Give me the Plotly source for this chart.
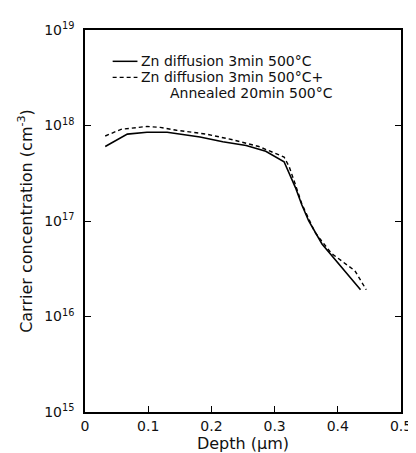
import plotly.graph_objects as go

depth_solid = [0.032, 0.067, 0.098, 0.13, 0.182, 0.218, 0.255, 0.286, 0.315, 0.333, 0.343, 0.354, 0.375, 0.406, 0.436]
log_solid = [17.78, 17.91, 17.93, 17.93, 17.88, 17.83, 17.79, 17.73, 17.62, 17.35, 17.17, 17.0, 16.76, 16.52, 16.28]

depth_dash = [0.032, 0.057, 0.098, 0.119, 0.145, 0.192, 0.234, 0.275, 0.315, 0.323, 0.333, 0.343, 0.364, 0.39, 0.427, 0.445]
log_dash = [17.89, 17.96, 17.99, 17.98, 17.95, 17.91, 17.85, 17.78, 17.67, 17.57, 17.38, 17.18, 16.88, 16.66, 16.48, 16.28]

x_ticks = [0, 0.1, 0.2, 0.3, 0.4, 0.5]
x_ticklabels = ["0", "0.1", "0.2", "0.3", "0.4", "0.5"]
y_ticks = [1e15, 1e16, 1e17, 1e18, 1e19]
y_ticklabels = ["10<sup>15</sup>", "10<sup>16</sup>", "10<sup>17</sup>", "10<sup>18</sup>", "10<sup>19</sup>"]

legend_solid = "Zn diffusion 3min 500°C"
legend_dash = "Zn diffusion 3min 500°C+"
legend_dash2 = "Annealed 20min 500°C"

fig = go.Figure()
fig.add_trace(go.Scatter(x=depth_solid, y=[10 ** v for v in log_solid], mode="lines",
                         line=dict(color="black", width=1.6), name=legend_solid, showlegend=False))
fig.add_trace(go.Scatter(x=depth_dash, y=[10 ** v for v in log_dash], mode="lines",
                         line=dict(color="black", width=1.4, dash="4px,3px"), name=legend_dash, showlegend=False))

family = "DejaVu Sans, Liberation Sans, Arial, sans-serif"
font = dict(family=family, size=14, color="#111")
legfont = dict(family=family, size=14, color="#111")
titlefont = dict(family=family, size=16, color="#111")

# legend drawn manually
fig.add_shape(type="line", xref="paper", yref="paper", x0=0.0875, x1=0.166, y0=0.918, y1=0.918,
              line=dict(color="black", width=1.5))
fig.add_shape(type="line", xref="paper", yref="paper", x0=0.0875, x1=0.166, y0=0.876, y1=0.876,
              line=dict(color="black", width=1.3, dash="4px,3px"))
fig.add_annotation(xref="paper", yref="paper", x=0.17, y=0.918, text=legend_solid, showarrow=False,
                   xanchor="left", yanchor="middle", font=legfont)
fig.add_annotation(xref="paper", yref="paper", x=0.17, y=0.876, text=legend_dash, showarrow=False,
                   xanchor="left", yanchor="middle", font=legfont)
fig.add_annotation(xref="paper", yref="paper", x=0.262, y=0.834, text=legend_dash2, showarrow=False,
                   xanchor="left", yanchor="middle", font=legfont)

fig.update_layout(
    width=416, height=453,
    margin=dict(l=77, r=19, t=20, b=46),
    paper_bgcolor="white", plot_bgcolor="white",
    font=font,
    xaxis=dict(range=[0, 0.5], tickvals=x_ticks, ticktext=x_ticklabels, ticks="inside", ticklen=6,
               tickcolor="black", showline=True, linecolor="black", linewidth=1.5, mirror=True,
               showgrid=False, zeroline=False, tickfont=font,
               title=dict(text="Depth (μm)", font=titlefont, standoff=4)),
    yaxis=dict(type="log", range=[15, 19], tickvals=y_ticks, ticktext=y_ticklabels, ticks="inside",
               ticklen=6, tickcolor="black", showline=True, linecolor="black", linewidth=1.5,
               mirror="ticks", showgrid=False, zeroline=False, tickfont=font, ticklabelstandoff=6,
               title=dict(text="Carrier concentration (cm<sup>-3</sup>)", font=titlefont, standoff=8)),
)

fig.write_html("out.html")
